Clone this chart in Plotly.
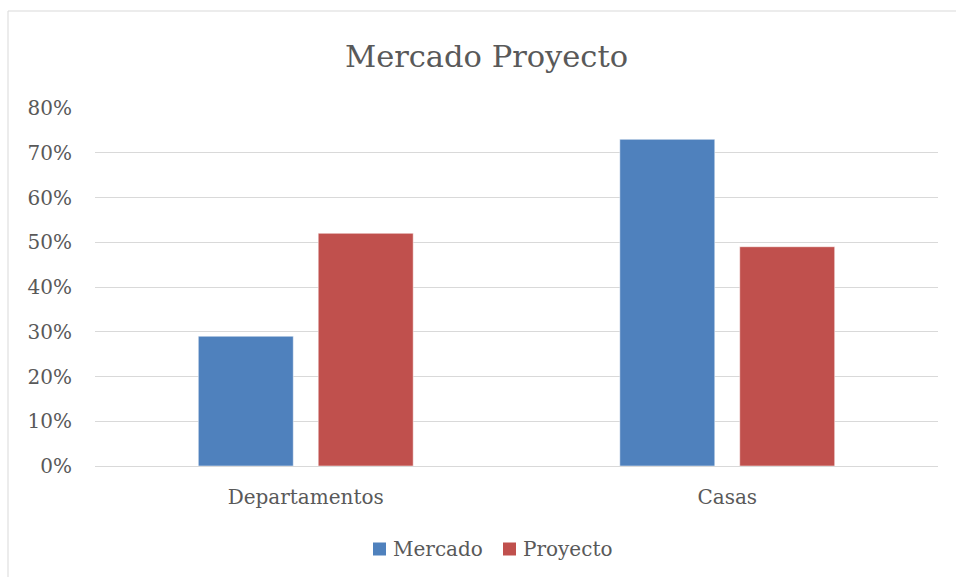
import plotly.graph_objects as go

categories = ["Departamentos", "Casas"]
series_names = ["Mercado", "Proyecto"]
mercado = [0.29, 0.73]
proyecto = [0.52, 0.49]
colors = ["#4f81bd", "#c0504d"]
tick_vals = [0, 0.1, 0.2, 0.3, 0.4, 0.5, 0.6, 0.7, 0.8]
tick_text = ["0%", "10%", "20%", "30%", "40%", "50%", "60%", "70%", "80%"]

FONT = "DejaVu Serif"
TXT = "#595959"

fig = go.Figure()
for name, vals, col in zip(series_names, [mercado, proyecto], colors):
    fig.add_trace(go.Bar(name=name, x=categories, y=vals, marker_color=col,
                         marker_line=dict(color="rgba(255,255,255,0.5)", width=1)))

W, H = 956, 577
L, R, T, B = 95, 18, 108, 111
pw, ph = W - L - R, H - T - B


def px_x(x):
    return (x - L) / pw


def px_y(y):
    return (H - B - y) / ph


# legend: coloured squares plus labels, laid out in one row under the axis
legend_sq_x = [373, 503]
legend_txt_x = [391, 521]
legend_y = 549
shapes = [dict(type="rect", xref="paper", yref="paper",
               x0=px_x(8), x1=px_x(W + 20), y0=px_y(H + 20), y1=px_y(11),
               line=dict(color="#d9d9d9", width=1), fillcolor="rgba(0,0,0,0)",
               layer="below")]
annotations = []
for name, col, sx, tx in zip(series_names, colors, legend_sq_x, legend_txt_x):
    shapes.append(dict(type="rect", xref="paper", yref="paper",
                       x0=px_x(sx), x1=px_x(sx + 13),
                       y0=px_y(legend_y + 6.5), y1=px_y(legend_y - 6.5),
                       line=dict(width=0), fillcolor=col))
    annotations.append(dict(text=name, xref="paper", yref="paper",
                            x=px_x(tx), y=px_y(legend_y), xanchor="left",
                            yanchor="middle", showarrow=False,
                            font=dict(family=FONT, size=20, color=TXT)))

fig.update_layout(
    width=W, height=H,
    margin=dict(l=L, r=R, t=T, b=B, pad=0, autoexpand=False),
    paper_bgcolor="white", plot_bgcolor="white",
    font=dict(family=FONT, color=TXT, size=20),
    barmode="group", bargap=0.431, bargroupgap=0.208,
    title=dict(text="Mercado Proyecto", x=486.5 / W, xanchor="center",
               y=1 - 56 / H, yanchor="middle",
               font=dict(family=FONT, size=30.5, color=TXT)),
    showlegend=False,
    xaxis=dict(showgrid=False, showline=False, ticks="", ticklabelstandoff=17,
               automargin=False),
    yaxis=dict(range=[0, 0.8], tickvals=tick_vals, ticktext=tick_text,
               showgrid=True, gridcolor="#d9d9d9", gridwidth=1,
               zeroline=True, zerolinecolor="#d9d9d9", zerolinewidth=1,
               showline=False, ticks="", ticklabelstandoff=22, automargin=False),
    shapes=shapes,
    annotations=annotations,
)

fig.write_html("out.html")
